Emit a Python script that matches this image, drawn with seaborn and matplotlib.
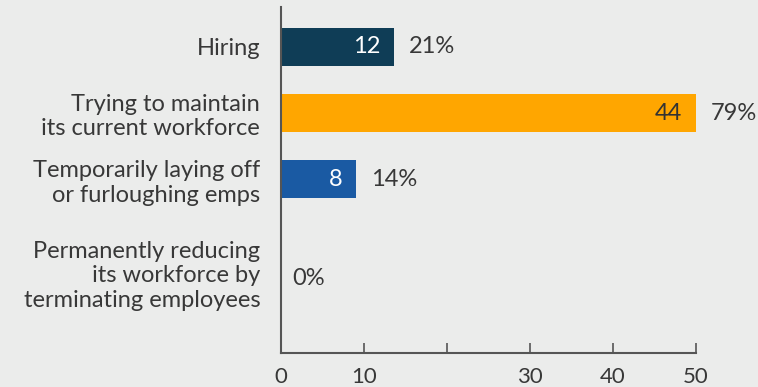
import matplotlib
matplotlib.use("Agg")
import matplotlib.pyplot as plt
import matplotlib.transforms as mtransforms
import seaborn as sns
import pandas as pd

# Survey responses: company's current workforce posture
categories = [
    "Hiring",
    "Trying to maintain\nits current workforce",
    "Temporarily laying off\nor furloughing emps",
    "Permanently reducing\nits workforce by\nterminating employees",
]
counts = [12, 44, 8, 0]
percents = [21, 79, 14, 0]
scale_ticks = [0, 10, 20, 30, 40, 50]
scale_tick_labels = ["0", "10", "", "30", "40", "50"]

bar_colors = ["#0F3D56", "#FFA600", "#1A5AA3", "#8C8C8C"]
inside_text_colors = ["white", "#333333", "white", "white"]
bg = "#EBECEB"
text_color = "#383838"
axis_color = "#555555"

sns.set_theme(style="white")
plt.rcParams["font.family"] = ["Lato", "DejaVu Sans"]

df = pd.DataFrame({"category": categories, "count": counts})

fig = plt.figure(figsize=(7.58, 3.87), dpi=100, facecolor=bg)
ax = fig.add_axes([0.3707, 0.088, 0.5475, 0.894])
ax.set_facecolor(bg)

sns.barplot(
    data=df, y="category", x="count", hue="category",
    palette=bar_colors, order=categories, hue_order=categories,
    orient="h", width=0.57, legend=False, ax=ax, saturation=1, linewidth=0,
)

# bars span the full plotting width at the largest count
ax.set_xlim(0, max(counts))
ax.set_ylim(len(categories) - 1 + 1.62, -0.6)
ax.set_xlabel("")
ax.set_ylabel("")
ax.set_xticks([])

# the three-line last row gets extra room below the others
last = len(categories) - 1
row_drop_pt = 24

for i, (c, p) in enumerate(zip(counts, percents)):
    dy = -row_drop_pt if i == last else 0
    if c > 0:
        ax.annotate(str(c), xy=(c, i), xytext=(-10, dy), textcoords="offset points",
                    ha="right", va="center", fontsize=17, color=inside_text_colors[i])
    ax.annotate(f"{p}%", xy=(c, i), xytext=(10.5 if c > 0 else 8, dy),
                textcoords="offset points", ha="left", va="center",
                fontsize=17, color=text_color, annotation_clip=False)

ax.tick_params(axis="y", length=0, pad=15, labelsize=17, labelcolor=text_color)
ylabels = ax.get_yticklabels()
for lbl in ylabels:
    lbl.set_linespacing(1.2)
shift = mtransforms.ScaledTranslation(0, -19 / 72, fig.dpi_scale_trans)
ylabels[last].set_transform(ylabels[last].get_transform() + shift)

for side in ["top", "right", "bottom"]:
    ax.spines[side].set_visible(False)
ax.spines["left"].set_color(axis_color)
ax.spines["left"].set_linewidth(1.5)

# value scale drawn along the bottom
ax2 = ax.twiny()
ax2.set_xlim(0, 50)
ax2.xaxis.set_ticks_position("bottom")
ax2.xaxis.set_label_position("bottom")
ax2.set_xticks(scale_ticks)
ax2.set_xticklabels(scale_tick_labels)
ax2.tick_params(axis="x", direction="in", length=7.5, width=1.2, color=axis_color,
                pad=10, labelsize=16, labelcolor=text_color)
for side in ["top", "right", "left"]:
    ax2.spines[side].set_visible(False)
ax2.spines["bottom"].set_color(axis_color)
ax2.spines["bottom"].set_linewidth(1.5)
ax2.grid(False)

fig.savefig("out.png", dpi=100, facecolor=bg)
